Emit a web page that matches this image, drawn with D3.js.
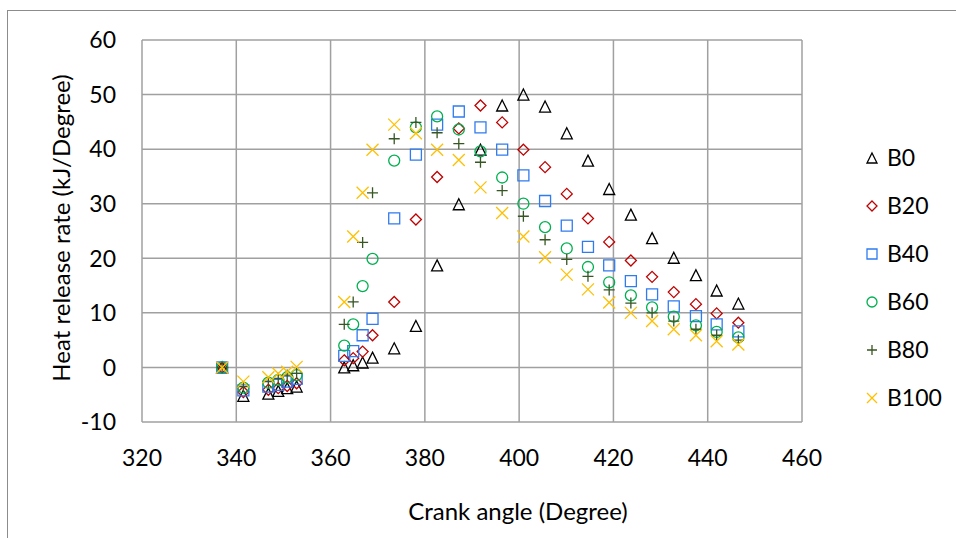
<!DOCTYPE html>
<html>
<head>
<meta charset="utf-8">
<script src="https://cdn.jsdelivr.net/npm/d3@7"></script>
<style>
  body { margin: 0; background: #fff; }
  svg text { font-family: Lato, "Open Sans", sans-serif; fill: #000; }
</style>
</head>
<body>
<div id="chart"></div>
<script>
// crank angle (degree) shared by all series
const angles = [337, 341.5, 346.8, 348.9, 350.8, 352.8, 362.9, 364.8, 366.8, 368.9, 373.5, 378.1, 382.6,
  387.2, 391.8, 396.4, 400.9, 405.5, 410.1, 414.6, 419.1, 423.7, 428.2, 432.8, 437.5, 441.9, 446.5];

const b0   = [0, -5.2, -4.8, -4.3, -3.8, -3.5, 0, 0.4, 0.9, 1.8, 3.5, 7.6, 18.7, 29.9, 39.9, 48.0, 50.0, 47.8, 42.9, 37.9, 32.7, 28.0, 23.7, 20.1, 16.9, 14.1, 11.7];
const b20  = [0, -4.5, -4.1, -3.8, -3.4, -2.9, 1.3, 1.7, 2.9, 5.9, 12.0, 27.1, 34.9, 43.8, 48.0, 44.9, 39.9, 36.7, 31.8, 27.3, 23.0, 19.6, 16.6, 13.8, 11.6, 9.9, 8.2];
const b40  = [0, -4.2, -3.5, -3.2, -2.6, -2.1, 2.1, 3.0, 5.9, 8.9, 27.3, 39.0, 44.5, 46.9, 44.0, 39.9, 35.2, 30.5, 26.0, 22.1, 18.7, 15.8, 13.4, 11.2, 9.4, 7.9, 6.6];
const b60  = [0, -3.7, -2.8, -2.3, -1.8, -1.4, 4.0, 7.9, 14.9, 19.9, 37.9, 44.0, 46.0, 43.6, 39.6, 34.8, 30.0, 25.7, 21.8, 18.4, 15.6, 13.2, 11.0, 9.3, 7.7, 6.5, 5.5];
const b80  = [0, -3.5, -2.6, -2.0, -1.4, -1.1, 7.9, 12.0, 22.9, 32.0, 41.9, 44.9, 43.0, 41.0, 37.6, 32.4, 27.7, 23.4, 19.8, 16.7, 14.2, 11.8, 10.0, 8.5, 7.0, 5.9, 5.0];
const b100 = [0, -2.6, -1.8, -1.1, -0.8, 0.1, 12.0, 24.0, 32.0, 39.9, 44.5, 42.9, 39.9, 38.0, 33.0, 28.3, 24.0, 20.2, 17.0, 14.3, 11.9, 10.0, 8.5, 7.0, 5.9, 4.8, 4.2];

const xTicks = [320, 340, 360, 380, 400, 420, 440, 460];
const yTicks = [-10, 0, 10, 20, 30, 40, 50, 60];

const series = [
  { name: 'B0',   values: b0,   shape: 'triangle', color: '#000000' },
  { name: 'B20',  values: b20,  shape: 'diamond',  color: '#C00000' },
  { name: 'B40',  values: b40,  shape: 'square',   color: '#2F7BF0' },
  { name: 'B60',  values: b60,  shape: 'circle',   color: '#00B050' },
  { name: 'B80',  values: b80,  shape: 'plus',     color: '#375623' },
  { name: 'B100', values: b100, shape: 'cross',    color: '#FFC000' }
];

const W = 956, H = 538;
const margin = { top: 40, right: 154, bottom: 116, left: 142 };
const width = W - margin.left - margin.right;
const height = H - margin.top - margin.bottom;

const svg = d3.select('#chart').append('svg')
  .attr('width', W)
  .attr('height', H);

// outer chart border (runs off the right and bottom edge)
svg.append('rect')
  .attr('x', 7.5).attr('y', 10.5)
  .attr('width', W + 10).attr('height', H + 10)
  .style('fill', 'none')
  .style('stroke', '#8c8c8c')
  .style('stroke-width', 1);

const g = svg.append('g')
  .attr('transform', `translate(${margin.left},${margin.top})`);

const x = d3.scaleLinear().domain([320, 460]).range([0, width]);
const y = d3.scaleLinear().domain([-10, 60]).range([height, 0]);

const gridColor = '#a0a0a0';

// horizontal grid
g.selectAll('line.hgrid')
  .data(yTicks)
  .enter().append('line')
  .attr('class', 'hgrid')
  .attr('x1', 0).attr('x2', width)
  .attr('y1', d => y(d)).attr('y2', d => y(d))
  .style('stroke', gridColor)
  .style('stroke-width', 1.5);

// vertical grid
g.selectAll('line.vgrid')
  .data(xTicks)
  .enter().append('line')
  .attr('class', 'vgrid')
  .attr('y1', 0).attr('y2', height)
  .attr('x1', d => x(d)).attr('x2', d => x(d))
  .style('stroke', gridColor)
  .style('stroke-width', 1.5);

// tick labels
g.selectAll('text.xlab')
  .data(xTicks)
  .enter().append('text')
  .attr('class', 'xlab')
  .attr('x', d => x(d))
  .attr('y', height + 44)
  .attr('text-anchor', 'middle')
  .style('font-size', '23px')
  .text(d => d);

g.selectAll('text.ylab')
  .data(yTicks)
  .enter().append('text')
  .attr('class', 'ylab')
  .attr('x', -26)
  .attr('y', d => y(d))
  .attr('dy', '0.36em')
  .attr('text-anchor', 'end')
  .style('font-size', '23px')
  .text(d => d);

// axis titles
svg.append('text')
  .attr('x', 518)
  .attr('y', 520)
  .attr('text-anchor', 'middle')
  .style('font-size', '24px')
  .text('Crank angle (Degree)');

svg.append('text')
  .attr('transform', `translate(70,228) rotate(-90)`)
  .attr('text-anchor', 'middle')
  .style('font-size', '24px')
  .text('Heat release rate (kJ/Degree)');

// marker paths, centred on their bounding box
function markerPath(shape, s) {
  const h = s / 2;
  switch (shape) {
    case 'triangle': return `M0,${-h}L${h},${h}L${-h},${h}Z`;
    case 'diamond':  return `M0,${-h}L${h},0L0,${h}L${-h},0Z`;
    case 'square':   return `M${-h},${-h}H${h}V${h}H${-h}Z`;
    case 'circle':   return `M${h},0A${h},${h} 0 1,1 ${-h},0A${h},${h} 0 1,1 ${h},0Z`;
    case 'plus':     return `M${-h},0H${h}M0,${-h}V${h}`;
    case 'cross':    return `M${-h},${-h}L${h},${h}M${h},${-h}L${-h},${h}`;
  }
}

const sizes = { triangle: 11, diamond: 11, square: 11, circle: 11, plus: 11, cross: 12 };

series.forEach(s => {
  g.selectAll(`path.m-${s.name}`)
    .data(s.values.map((v, i) => ({ a: angles[i], v })))
    .enter().append('path')
    .attr('class', `m-${s.name}`)
    .attr('transform', d => `translate(${x(d.a)},${y(d.v)})`)
    .attr('d', markerPath(s.shape, sizes[s.shape]))
    .style('fill', 'none')
    .style('stroke', s.color)
    .style('stroke-width', 1.3);
});

// legend
const legend = svg.append('g')
  .attr('transform', 'translate(872,158)');

const rows = legend.selectAll('g.row')
  .data(series)
  .enter().append('g')
  .attr('class', 'row')
  .attr('transform', (d, i) => `translate(0,${i * 48})`);

rows.append('path')
  .attr('d', d => markerPath(d.shape, 10))
  .style('fill', 'none')
  .style('stroke', d => d.color)
  .style('stroke-width', 1.3);

rows.append('text')
  .attr('x', 15)
  .attr('dy', '0.36em')
  .style('font-size', '23px')
  .text(d => d.name);
</script>
</body>
</html>
